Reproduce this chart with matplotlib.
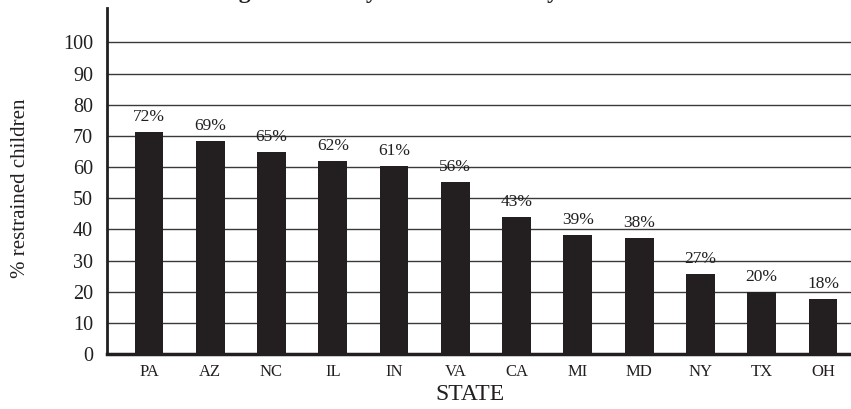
import matplotlib.pyplot as plt

# data
states = ['PA', 'AZ', 'NC', 'IL', 'IN', 'VA', 'CA', 'MI', 'MD', 'NY', 'TX', 'OH']
pct_restrained = [71.3, 68.4, 64.8, 62.0, 60.3, 55.3, 43.9, 38.1, 37.1, 25.8, 20.0, 17.7]
bar_labels = ['72%', '69%', '65%', '62%', '61%', '56%', '43%', '39%', '38%', '27%', '20%', '18%']
y_ticks = [0, 10, 20, 30, 40, 50, 60, 70, 80, 90, 100]

plt.rcParams['font.family'] = ['Liberation Serif', 'DejaVu Serif']

fig = plt.figure(figsize=(8.51, 4.09), dpi=100)
ax = fig.add_axes([0.1257, 0.1345, 0.8743, 0.8455])

x = range(len(states))
ax.set_axisbelow(True)
ax.yaxis.grid(True, color='#3a3a3a', linewidth=1.0)
bars = ax.bar(x, pct_restrained, width=0.47, color='#231f20', zorder=3)

for xi, val, lab in zip(x, pct_restrained, bar_labels):
    ax.annotate(lab, (xi, val), xytext=(0, 5), textcoords='offset points',
                ha='center', va='bottom', fontsize=12.5, color='#231f20')

ax.set_xlim(-0.685, len(states) - 0.543)
ax.set_ylim(0, 111)
ax.set_yticks(y_ticks)
ax.set_xticks(list(x))
ax.set_xticklabels(states)
ax.tick_params(axis='y', length=0, pad=10, labelsize=14.5, colors='#231f20')
ax.tick_params(axis='x', length=0, pad=7, labelsize=12, colors='#231f20')

for side in ['top', 'right']:
    ax.spines[side].set_visible(False)
ax.spines['left'].set_linewidth(2)
ax.spines['bottom'].set_linewidth(2.5)
ax.spines['left'].set_color('#231f20')
ax.spines['bottom'].set_color('#231f20')

ax.set_xlabel('STATE', fontsize=17, color='#231f20')
ax.xaxis.set_label_coords(0.488, -0.088)
ax.set_ylabel('% restrained children', fontsize=15, color='#231f20')
ax.yaxis.set_label_coords(-0.104, 0.48)

# title sits mostly above the visible area, as in the reference
fig.text(0.155, 1 + 2 / 409, 'Restraining Children by Statewide Survey', fontsize=17,
         fontweight='bold', va='baseline', ha='left', color='#231f20')

fig.savefig('out.png', dpi=100)
